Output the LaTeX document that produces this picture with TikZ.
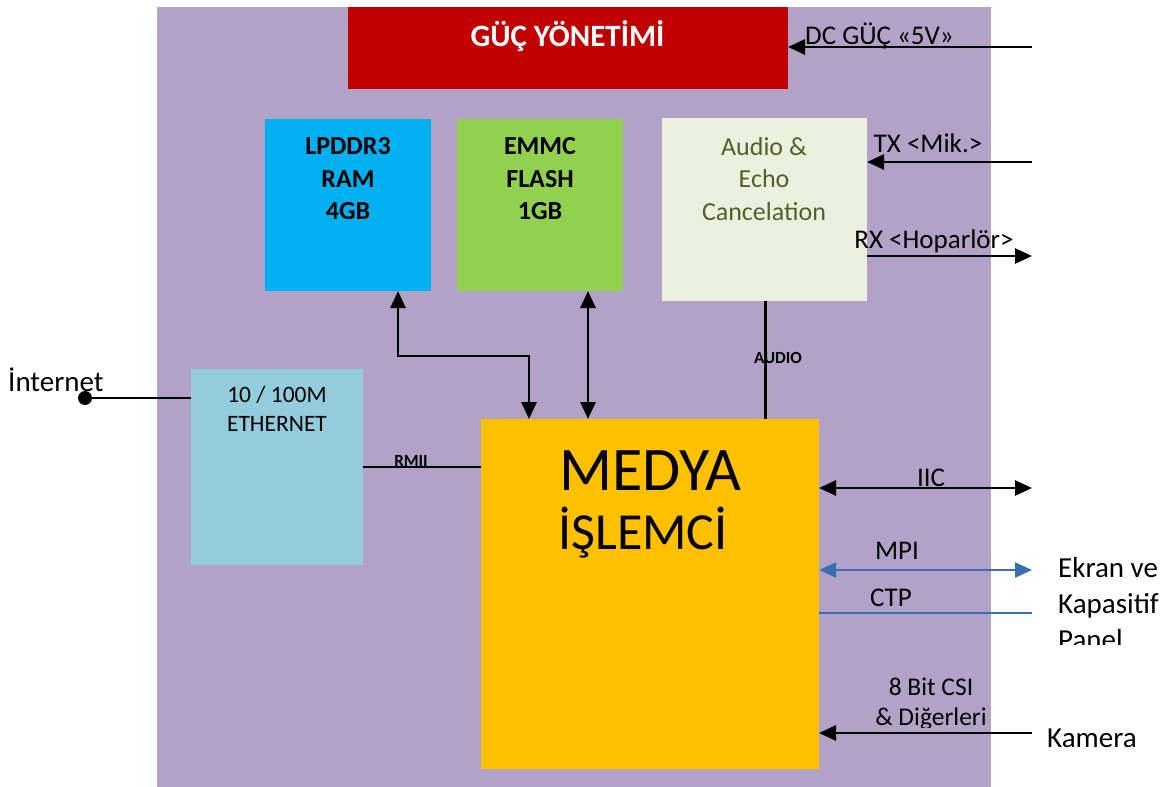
\documentclass[tikz,border=0pt]{standalone}
\usepackage{fontspec}
\setmainfont{Carlito}
\usetikzlibrary{arrows.meta}
\definecolor{bgpurple}{HTML}{B3A2C7}
\definecolor{pwrred}{HTML}{C00000}
\definecolor{ramblue}{HTML}{00B0F0}
\definecolor{flashgreen}{HTML}{92D050}
\definecolor{audiobg}{HTML}{EBF1DE}
\definecolor{audiotext}{HTML}{4F6228}
\definecolor{ethblue}{HTML}{93CDDD}
\definecolor{cpuorange}{HTML}{FFC000}
\definecolor{linkblue}{HTML}{3A6EB0}
\begin{document}
\begin{tikzpicture}[x=1pt,y=-1pt,
  box/.style={draw=none,inner sep=0pt,outer sep=0pt,anchor=north west},
  lbl/.style={inner sep=0pt,font=\fontsize{27}{32}\selectfont},
  extlbl/.style={inner sep=0pt,font=\fontsize{29}{36}\selectfont,align=left},
  wire/.style={line width=2.8pt,draw=black},
  arr/.style={wire,-{Triangle[length=17pt,width=15pt]}},
  dblarr/.style={wire,{Triangle[length=17pt,width=15pt]}-{Triangle[length=17pt,width=15pt]}},
  bluewire/.style={line width=2.2pt,draw=linkblue},
  bluedbl/.style={bluewire,{Triangle[length=17pt,width=15pt]}-{Triangle[length=17pt,width=15pt]}},
  smallbold/.style={inner sep=0pt,font=\fontsize{17}{20}\selectfont\bfseries}]
\useasboundingbox (0,0) rectangle (1168,787);
% background and blocks
\node[box,fill=bgpurple,minimum width=834pt,minimum height=780pt] (bg) at (157,7) {};
\node[box,fill=pwrred,minimum width=440pt,minimum height=82pt] (pwr) at (348,7) {};
\node[box,fill=ramblue,minimum width=166pt,minimum height=172pt] (ram) at (265,119) {};
\node[box,fill=flashgreen,minimum width=166pt,minimum height=172pt] (flash) at (457,119) {};
\node[box,fill=audiobg,minimum width=205pt,minimum height=183pt] (audio) at (662,118) {};
\node[box,fill=ethblue,minimum width=172pt,minimum height=196pt] (eth) at (191,369) {};
\node[box,fill=cpuorange,minimum width=338pt,minimum height=350pt] (cpu) at (481,419) {};
% block texts
\node[inner sep=0pt,anchor=base,text=white,font=\fontsize{31}{34}\selectfont\bfseries] (pwrtxt) at (567.5,46) {GÜÇ YÖNETİMİ};
\node[inner sep=0pt,align=center,font=\fontsize{26}{32.5}\selectfont\bfseries] (ramtxt) at (348,179) {LPDDR3\\RAM\\4GB};
\node[inner sep=0pt,align=center,font=\fontsize{26}{32.5}\selectfont\bfseries] (flashtxt) at (540,179) {EMMC\\FLASH\\1GB};
\node[inner sep=0pt,align=center,text=audiotext,font=\fontsize{26}{32.5}\selectfont] (audiotxt) at (764,179) {Audio \&\\Echo\\Cancelation};
\node[inner sep=0pt,align=center,font=\fontsize{23.5}{29}\selectfont] (ethtxt) at (277,409) {10 / 100M\\ETHERNET};
\node[inner sep=0pt,anchor=base,font=\fontsize{62}{68}\selectfont] (cputxt) at (650.5,490) {MEDYA};
\node[inner sep=0pt,anchor=base,font=\fontsize{52}{60}\selectfont] (cputxtb) at (643,549) {İŞLEMCİ};
% free ends
\coordinate (dcR) at (1032,47);
\coordinate (txR) at (1032,162);
\coordinate (rxR) at (1032,256);
\coordinate (iicR) at (1032,488);
\coordinate (mpiR) at (1032,570);
\coordinate (ctpR) at (1032,613);
\coordinate (camR) at (1032,733);
\node[circle,fill=black,inner sep=0pt,minimum size=14pt] (inet) at (85,398) {};
% connectors
\draw[arr] (dcR) -- (dcR -| pwr.east);
\draw[arr] (txR) -- (txR -| audio.east);
\draw[arr] (rxR -| audio.east) -- (rxR);
\draw[dblarr] ([xshift=50pt]ram.south) -- ++(0,65) -| ([xshift=-121pt]cpu.north);
\draw[dblarr] ([xshift=48pt]flash.south) -- ([xshift=48pt]flash.south |- cpu.north);
\draw[line width=2.2pt] ([xshift=1pt]audio.south) -- ([xshift=1pt]audio.south |- cpu.north);
\draw[line width=2.2pt] (eth.east) -- (eth.east -| cpu.west);
\draw[wire] (inet) -- (inet -| eth.west);
\draw[dblarr] (iicR -| cpu.east) -- (iicR);
\draw[bluedbl] (mpiR -| cpu.east) -- (mpiR);
\draw[bluewire] (ctpR -| cpu.east) -- (ctpR);
\draw[arr] (camR) -- (camR -| cpu.east);
% labels
\node[lbl,anchor=west] (dclbl) at (805,36) {DC GÜÇ «5V»};
\node[lbl] (txlbl) at (928,143) {TX <Mik.>};
\node[lbl] (rxlbl) at (934,241) {RX <Hoparlör>};
\node[smallbold] (audiolbl) at (778,358) {AUDIO};
\node[smallbold] (rmiilbl) at (411,461) {RMII};
\node[lbl] (iiclbl) at (931,478) {IIC};
\node[lbl] (mpilbl) at (897,551) {MPI};
\node[lbl] (ctplbl) at (891,598) {CTP};
\begin{scope}
\clip (850,660) rectangle (1010,727);
\node[lbl,align=center,font=\fontsize{25.5}{30}\selectfont] (csilbl) at (931,704) {8 Bit CSI\\\& Diğerleri};
\end{scope}
\begin{scope}
\clip (1040,540) rectangle (1168,644);
\node[extlbl,anchor=west] (ekranlbl) at (1058,604) {Ekran ve\\Kapasitif\\Panel};
\end{scope}
\node[extlbl,anchor=west] (kameralbl) at (1047,738) {Kamera};
\node[extlbl,anchor=west] (inetlbl) at (8,380) {İnternet};
\end{tikzpicture}
\end{document}
